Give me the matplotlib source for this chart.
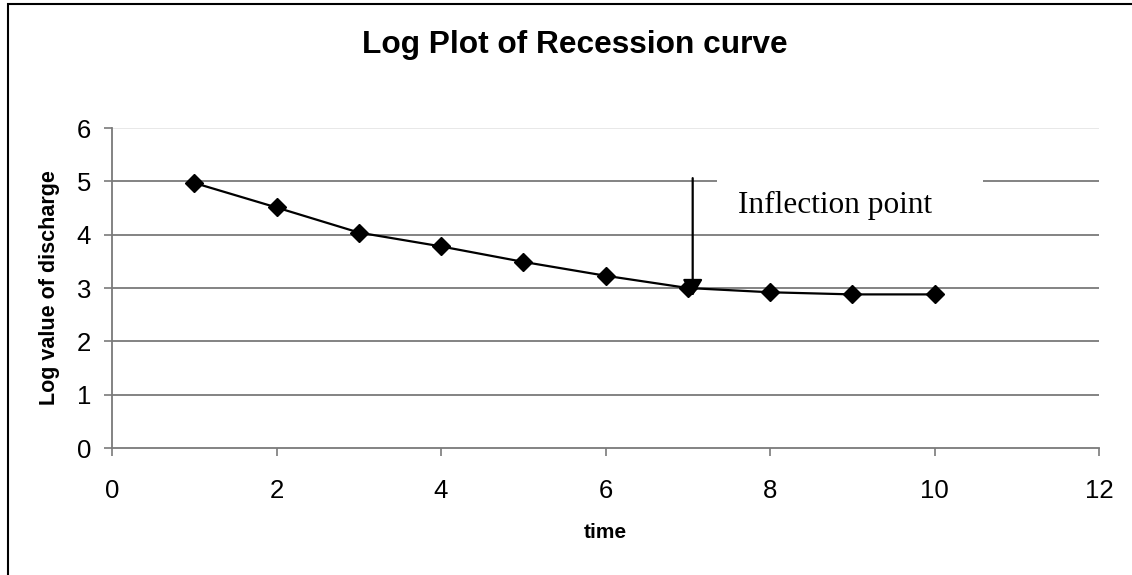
import matplotlib
matplotlib.use("Agg")
import matplotlib.pyplot as plt
from matplotlib.patches import Rectangle

# data
time = [1, 2, 3, 4, 5, 6, 7, 8, 9, 10]
log_discharge = [4.97, 4.51, 4.04, 3.78, 3.49, 3.23, 3.0, 2.92, 2.88, 2.88]
x_ticks = [0, 2, 4, 6, 8, 10, 12]
y_ticks = [0, 1, 2, 3, 4, 5, 6]
inflection_x = 7.06
arrow_top, arrow_tip = 5.06, 2.85

plt.rcParams["font.family"] = ["Liberation Sans", "DejaVu Sans"]

fig = plt.figure(figsize=(11.32, 5.75), dpi=100)
ax = fig.add_axes([112 / 1132, 1 - 448 / 575, 987 / 1132, 320 / 575])

# outer chart border (only top and left visible in the crop)
fig.patches.append(Rectangle((8 / 1132, -0.1), 1.2, 1.1 - 4 / 575,
                             transform=fig.transFigure, fill=False,
                             edgecolor="black", lw=1.5))

for y in y_ticks[1:-1]:
    ax.axhline(y, color="#7a7a7a", lw=1.3, zorder=1)
ax.axhline(y_ticks[-1], color="#e6e6e6", lw=1.3, zorder=1)

ax.plot(time, log_discharge, color="black", lw=1.6, marker="D",
        markersize=9, zorder=3)

ax.set_xlim(0, 12)
ax.set_ylim(0, 6)
ax.set_xticks(x_ticks)
ax.set_yticks(y_ticks)
ax.tick_params(axis="both", direction="out", length=6, width=1.2,
               color="#7a7a7a", labelsize=18.5)
ax.tick_params(axis="x", pad=16)
ax.tick_params(axis="y", pad=9)

for side in ("top", "right"):
    ax.spines[side].set_visible(False)
for side in ("left", "bottom"):
    ax.spines[side].set_color("#7a7a7a")
    ax.spines[side].set_linewidth(1.3)

# white box behind the annotation text hides the gridline
ax.add_patch(Rectangle((7.36, 4.15), 3.23, 1.1, facecolor="white",
                       edgecolor="none", zorder=2))
ax.text(7.61, 4.41, "Inflection point", fontsize=22.5, va="baseline",
        family=["Liberation Serif", "DejaVu Serif"], zorder=4)
ax.annotate("", xy=(inflection_x, arrow_tip), xytext=(inflection_x, arrow_top),
            arrowprops=dict(arrowstyle="-|>,head_length=0.5,head_width=0.3",
                            mutation_scale=20, color="black", lw=1.6,
                            shrinkA=0, shrinkB=0),
            zorder=5)

ax.set_xlabel("time", fontsize=15, fontweight="bold", labelpad=15)
ax.set_ylabel("Log value of discharge", fontsize=15.5, fontweight="bold",
              labelpad=12)
fig.text(575 / 1132, 1 - 45 / 575, "Log Plot of Recession curve",
         fontsize=22.8, fontweight="bold", ha="center", va="center")

fig.savefig("out.png", dpi=100)
